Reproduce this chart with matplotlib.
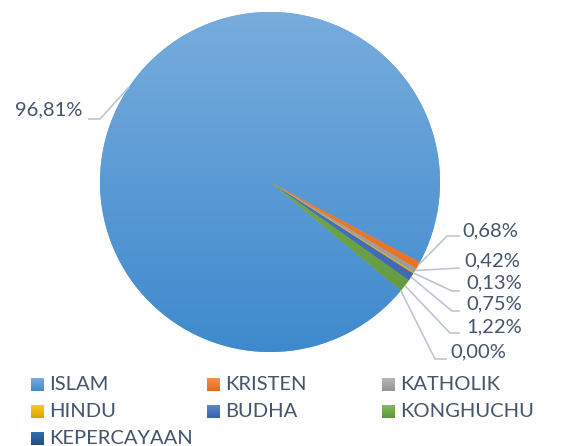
import colorsys
import numpy as np
import matplotlib
matplotlib.use("Agg")
import matplotlib.pyplot as plt
from matplotlib.colors import to_rgb

# ---------------- data ----------------
categories = ["ISLAM", "KRISTEN", "KATHOLIK", "HINDU", "BUDHA", "KONGHUCHU", "KEPERCAYAAN"]
values = [96.81, 0.68, 0.42, 0.13, 0.75, 1.22, 0.00]
value_labels = ["96,81%", "0,68%", "0,42%", "0,13%", "0,75%", "1,22%", "0,00%"]
colors = ["#5B9BD5", "#ED7D31", "#A5A5A5", "#FFC000", "#4472C4", "#70AD47", "#2A5F97"]

# ---------------- layout ----------------
W, H = 564, 446
FONT = "Lato"
TXT = "#44546A"
LEADER = "#BCC6D2"
FS = 14.5

fig = plt.figure(figsize=(W / 100, H / 100), dpi=100)
cx, cy, r = 270, 182, 170
ax = fig.add_axes([(cx - r) / W, (H - cy - r) / H, 2 * r / W, 2 * r / H])

wedges, _ = ax.pie(values, startangle=-39.7, counterclock=False, radius=1,
                   center=(0, 0), colors=colors, wedgeprops=dict(linewidth=0))


def grad_colors(c):
    base = np.array(to_rgb(c))
    h, l, s = colorsys.rgb_to_hls(*base)
    top = np.array(colorsys.hls_to_rgb(h, min(1, l + 0.07), s))
    bot = np.array(colorsys.hls_to_rgb(h, max(0, l - 0.07), s))
    return top, bot


t = np.linspace(0, 1, 256)[:, None, None]
for w, c in zip(wedges, colors):
    top, bot = grad_colors(c)
    img = top * (1 - t) + bot * t
    im = ax.imshow(img, extent=(-1, 1, -1, 1), origin="upper", aspect="auto",
                   zorder=w.get_zorder() + 0.1, interpolation="bilinear")
    im.set_clip_path(w)

ax.set_xlim(-1, 1)
ax.set_ylim(-1, 1)
ax.set_aspect("equal")
ax.axis("off")

# overlay in pixel coordinates (y downwards)
ov = fig.add_axes([0, 0, 1, 1], zorder=5)
ov.set_xlim(0, W)
ov.set_ylim(H, 0)
ov.axis("off")


def tip_pixel(w):
    ang = np.deg2rad((w.theta1 + w.theta2) / 2)
    x, y = ax.transData.transform((np.cos(ang), np.sin(ang)))
    return x, H - y


# label positions and leader line elbows (pixels)
label_pos = [(82, 110, "right"), (462, 230.5, "left"), (464, 261, "left"),
             (466, 283, "left"), (466, 303.5, "left"), (466, 326.5, "left"),
             (450, 351.5, "left")]
leader_pts = [[(100, 119), (88, 119)],
              [(447, 236), (460, 236)],
              [(460, 268)],
              [(452, 291), (460, 291)],
              [(452, 311), (460, 311)],
              [(450, 333), (460, 333)],
              [(435, 359), (447, 359)]]

for w, lab, (lx, ly, ha), pts in zip(wedges, value_labels, label_pos, leader_pts):
    tx, ty = tip_pixel(w)
    xs = [tx] + [p[0] for p in pts]
    ys = [ty] + [p[1] for p in pts]
    ov.plot(xs, ys, color=LEADER, lw=1.2, solid_capstyle="butt")
    ov.text(lx, ly, lab, ha=ha, va="center", fontsize=FS, color=TXT, family=FONT)

# legend (row-wise, 3 columns)
col_x = [31, 207, 382]
row_y = [385, 411.5, 438.5]
msz = 13
for i, (cat, c) in enumerate(zip(categories, colors)):
    row, col = divmod(i, 3)
    x0, y0 = col_x[col], row_y[row]
    top, bot = grad_colors(c)
    img = top * (1 - t) + bot * t
    ov.imshow(img, extent=(x0, x0 + msz, y0 + msz / 2, y0 - msz / 2),
              origin="upper", aspect="auto", interpolation="bilinear", zorder=3)
    ov.text(x0 + 18, y0, cat, ha="left", va="center", fontsize=FS, color=TXT, family=FONT)

ov.set_xlim(0, W)
ov.set_ylim(H, 0)

fig.savefig("out.png", dpi=100)
